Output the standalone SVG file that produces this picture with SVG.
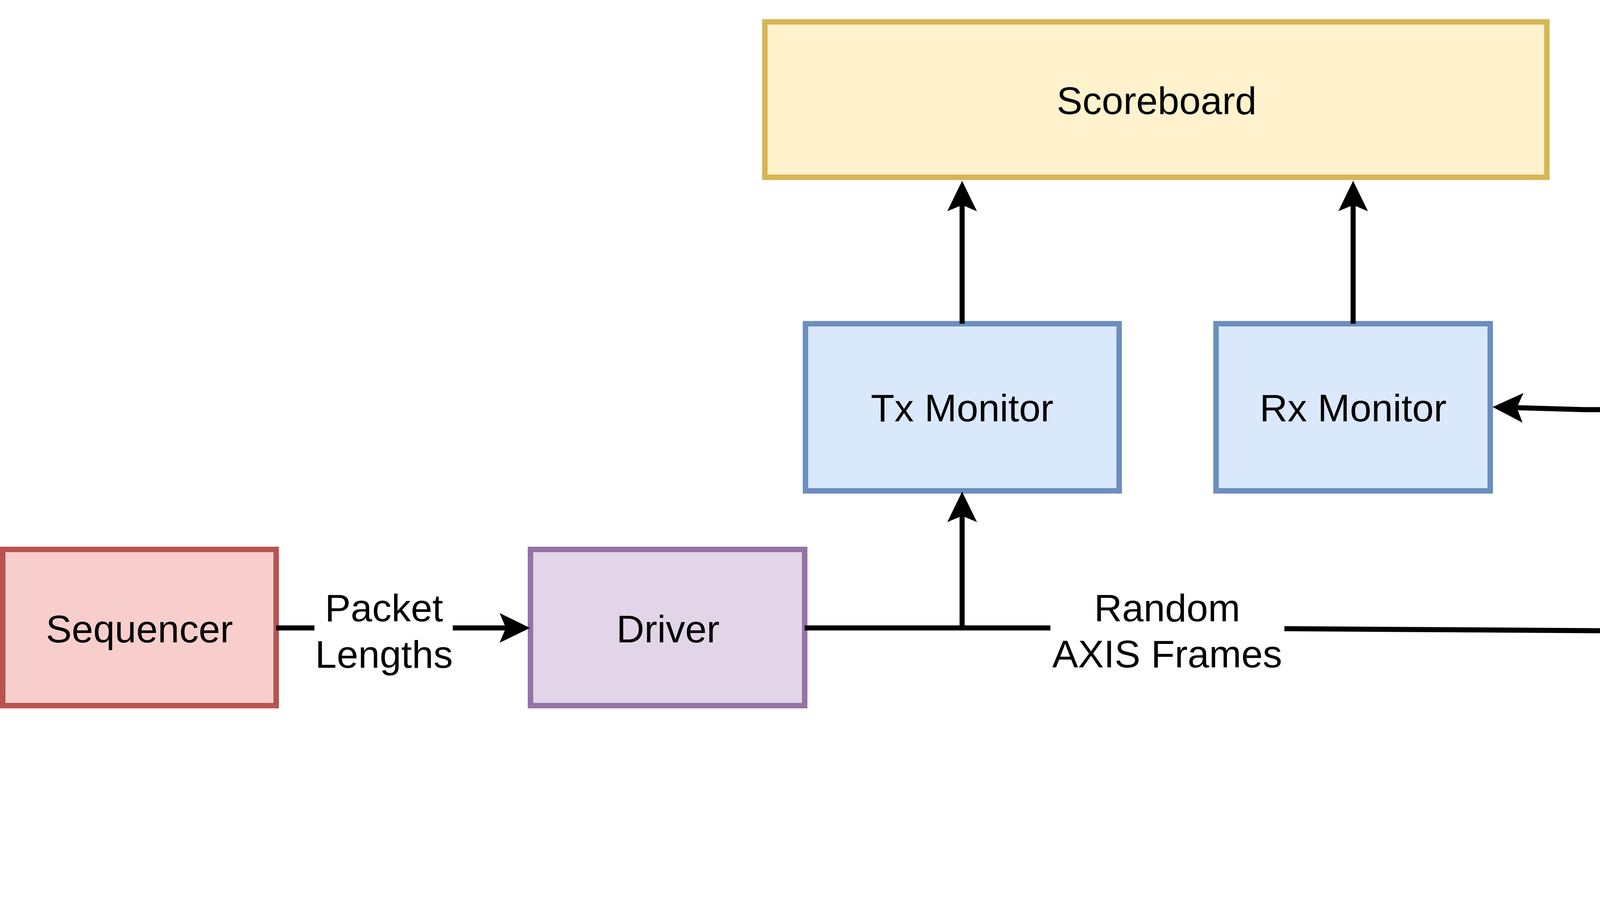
<svg xmlns="http://www.w3.org/2000/svg" width="6765" height="2315" viewBox="0 0 6765 2315">
<style>
.node{stroke-width:14}
.lbl{font-family:"Liberation Sans",Arial,Helvetica,sans-serif;font-size:99px;fill:#000;text-anchor:middle}
.wire{fill:none;stroke:#000;stroke-width:13}
.arr{marker-end:url(#ah)}
</style>
<defs>
<marker id="ah" viewBox="0 0 80 80" refX="16" refY="40" markerWidth="80" markerHeight="80" markerUnits="userSpaceOnUse" orient="auto-start-reverse">
<path d="M78,40 L0,2 L16,40 L0,78 Z" fill="#000"/>
</marker>
</defs>
<rect width="6765" height="2315" fill="#fff"/>
<g id="interface">
<rect x="4311" y="10" width="2444" height="2295" rx="500" ry="500" fill="#ffe6cc" stroke="#d79b00" class="node"/>
<rect x="4563" y="263" width="1941" height="1790" rx="260" ry="260" fill="#fff" stroke="#d79b00" class="node"/>
<text x="5533" y="170" class="lbl">Interface (BFM)</text>
</g>
<g id="scoreboard">
<rect x="1958" y="56" width="2002" height="398" fill="#fff2cc" stroke="#d6b656" class="node"/>
<text x="2961" y="292" class="lbl">Scoreboard</text>
</g>
<g id="txmonitor">
<rect x="2062" y="829" width="803" height="428" fill="#dae8fc" stroke="#6c8ebf" class="node"/>
<text x="2463" y="1079" class="lbl">Tx Monitor</text>
</g>
<g id="rxmonitor">
<rect x="3113" y="829" width="702" height="428" fill="#dae8fc" stroke="#6c8ebf" class="node"/>
<text x="3464" y="1079" class="lbl">Rx Monitor</text>
</g>
<g id="sequencer">
<rect x="7" y="1407" width="700" height="400" fill="#f8cecc" stroke="#b85450" class="node"/>
<text x="357" y="1645" class="lbl">Sequencer</text>
</g>
<g id="driver">
<rect x="1358" y="1407" width="702" height="400" fill="#e1d5e7" stroke="#9673a6" class="node"/>
<text x="1710" y="1645" class="lbl">Driver</text>
</g>
<g id="macpcs">
<rect x="5256" y="770" width="551" height="1098" fill="#bac8d3" stroke="#23445d" class="node"/>
<text x="5531" y="1296" class="lbl">MAC/</text>
<text x="5531" y="1414" class="lbl">PCS</text>
</g>
<g id="connectors">
<path class="wire arr" d="M707,1608 H805 M1159,1608 H1295"/>
<path class="wire arr" d="M2060,1608 H2689 M3288,1610 L4228,1616"/>
<path class="wire arr" d="M2463,1608 V1321"/>
<path class="wire arr" d="M2463,829 V525"/>
<path class="wire arr" d="M3464,829 V525"/>
<path class="wire arr" d="M4290,1049 L4055,1049 L3883,1044"/>
<path class="wire arr" style="marker-start:url(#ah)" d="M5533,325 V455 M5533,576 V705"/>
<path class="wire arr" d="M5252,1068 V1058 H5025 M4800,1058 H4625"/>
<path class="wire arr" d="M4563,1605 L4774,1603 M5000,1601 L5189,1596"/>
<path class="wire arr" d="M6504,1036 V1045 H6265 M6060,1045 H5874"/>
<path class="wire arr" d="M5807,1595 H6050 M6255,1590 L6431,1587"/>
<path class="wire arr" stroke-dasharray="44 44" d="M6504,1588 H6667 V1043 H6581"/>
<text x="983" y="1591" class="lbl">Packet</text>
<text x="983" y="1710" class="lbl">Lengths</text>
<text x="2988" y="1591" class="lbl">Random</text>
<text x="2988" y="1709" class="lbl">AXIS Frames</text>
<text x="5533" y="552" class="lbl">Clocks/Resets</text>
<text x="4912" y="1033" class="lbl">AXIS</text>
<text x="4912" y="1151" class="lbl">Rx</text>
<text x="4887" y="1577" class="lbl">AXIS</text>
<text x="4887" y="1697" class="lbl">Tx</text>
<text x="6161" y="1019" class="lbl">Xver</text>
<text x="6161" y="1139" class="lbl">Rx</text>
<text x="6154" y="1563" class="lbl">Xver</text>
<text x="6154" y="1683" class="lbl">Tx</text>
</g>
</svg>
